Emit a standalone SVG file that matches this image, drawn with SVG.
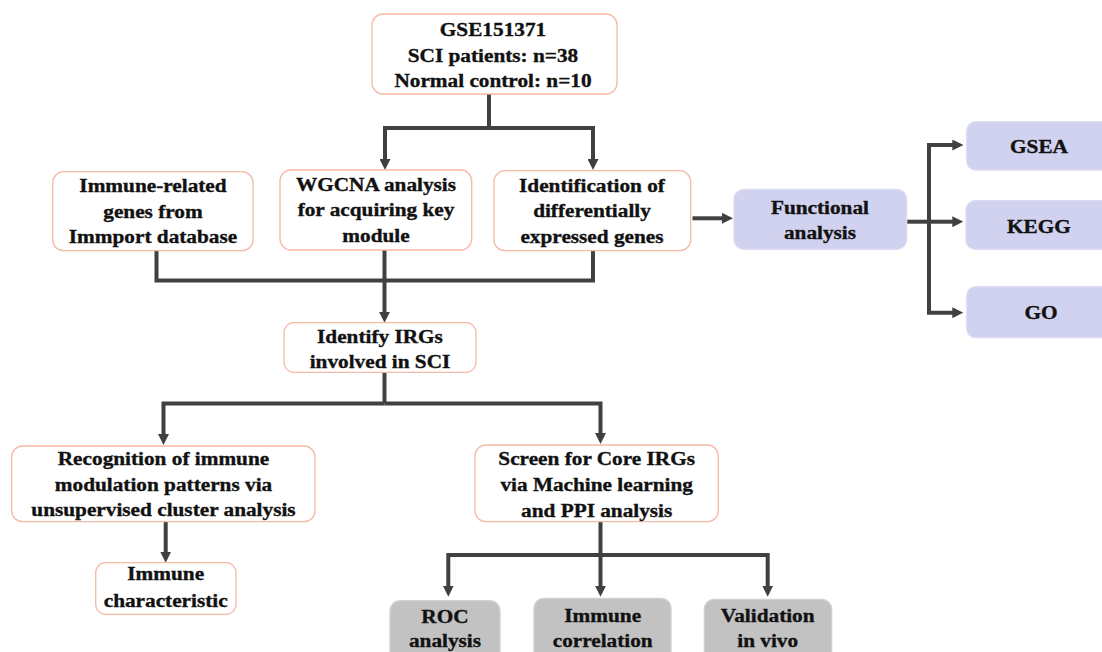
<svg xmlns="http://www.w3.org/2000/svg" width="1102" height="652" viewBox="0 0 1102 652">
<style>
  text { font-family: "Liberation Serif", "Times New Roman", serif; font-weight: bold; font-size: 19px; fill: #111; stroke: #111; stroke-width: 0.35; text-anchor: middle; transform-box: fill-box; transform-origin: center; transform: scaleX(1.12); }
  .node { fill: #ffffff; stroke: #f5b9a7; stroke-width: 1.3; }
  .func { fill: #d1d2ef; stroke: #dcdcf3; stroke-width: 1.3; }
  .gray { fill: #c2c2c2; stroke: #d2d2d2; stroke-width: 1.3; }
  .conn { fill: none; stroke: #404040; stroke-width: 4; stroke-linejoin: miter; }
  .arr { marker-end: url(#ah); }
</style>
<defs>
  <marker id="ah" markerUnits="userSpaceOnUse" markerWidth="11" markerHeight="11" viewBox="0 0 11 11" refX="1" refY="5.5" orient="auto">
    <path d="M0,0 L11,5.5 L0,11 z" fill="#404040"/>
  </marker>
</defs>
<rect width="1102" height="652" fill="#ffffff"/>

<g id="connectors">
  <path class="conn" d="M489,94 V128"/>
  <path class="conn arr" d="M489,128 H385 V160"/>
  <path class="conn arr" d="M489,128 H593 V160"/>
  <path class="conn" d="M156.5,251 V280.5 H593 V251"/>
  <path class="conn arr" d="M384.5,250 V312.7"/>
  <path class="conn" d="M384.5,372 V403.5"/>
  <path class="conn arr" d="M384.5,403.5 H163.5 V435"/>
  <path class="conn arr" d="M384.5,403.5 H600.5 V434"/>
  <path class="conn arr" d="M165.7,521.7 V552.7"/>
  <path class="conn" d="M600.5,521.7 V555"/>
  <path class="conn arr" d="M600.5,555 H448.3 V586.7"/>
  <path class="conn arr" d="M600.5,555 V586.7"/>
  <path class="conn arr" d="M600.5,555 H767.7 V586.7"/>
  <path class="conn arr" d="M692.5,218.3 H723"/>
  <path class="conn" d="M906.7,221.7 H929"/>
  <path class="conn arr" d="M929,221.7 V145 H953.3"/>
  <path class="conn arr" d="M929,221.7 H953.3"/>
  <path class="conn arr" d="M929,221.7 V312.7 H953.3"/>
</g>

<g id="n-gse">
  <rect class="node" x="372" y="14" width="245" height="80" rx="11"/>
  <text x="493" y="36">GSE151371</text>
  <text x="493" y="62.5">SCI patients: n=38</text>
  <text x="493" y="87">Normal control: n=10</text>
</g>

<g id="n-immune-genes">
  <rect class="node" x="52.7" y="171.7" width="200.3" height="79" rx="11"/>
  <text x="153" y="192">Immune-related</text>
  <text x="153" y="218">genes from</text>
  <text x="153" y="243">Immport database</text>
</g>

<g id="n-wgcna">
  <rect class="node" x="280" y="170" width="191.7" height="80" rx="11"/>
  <text x="376" y="191">WGCNA analysis</text>
  <text x="376" y="216.5">for acquiring key</text>
  <text x="376" y="242">module</text>
</g>

<g id="n-deg">
  <rect class="node" x="494" y="170.7" width="196.7" height="80" rx="11"/>
  <text x="592" y="192">Identification of</text>
  <text x="592" y="217.5">differentially</text>
  <text x="592" y="243">expressed genes</text>
</g>

<g id="n-functional">
  <rect class="func" x="734" y="189.3" width="172.7" height="60" rx="10"/>
  <text x="820" y="214">Functional</text>
  <text x="820" y="239">analysis</text>
</g>

<g id="n-gsea">
  <rect class="func" x="966.7" y="121.7" width="150" height="48.3" rx="9"/>
  <text x="1039" y="153.3">GSEA</text>
</g>

<g id="n-kegg">
  <rect class="func" x="966" y="200.7" width="150" height="48.6" rx="9"/>
  <text x="1039" y="232.7">KEGG</text>
</g>

<g id="n-go">
  <rect class="func" x="966.7" y="286.7" width="150" height="51" rx="9"/>
  <text x="1041" y="319.3">GO</text>
</g>

<g id="n-identify">
  <rect class="node" x="284" y="322.7" width="192" height="49.6" rx="10"/>
  <text x="380" y="343">Identify IRGs</text>
  <text x="380" y="368">involved in SCI</text>
</g>

<g id="n-recognition">
  <rect class="node" x="11.7" y="446" width="303.3" height="75.7" rx="11"/>
  <text x="163.5" y="465.5">Recognition of immune</text>
  <text x="163.5" y="491">modulation patterns via</text>
  <text x="163.5" y="516">unsupervised cluster analysis</text>
</g>

<g id="n-screen">
  <rect class="node" x="475" y="445" width="243.3" height="76.7" rx="11"/>
  <text x="596.7" y="465.5">Screen for Core IRGs</text>
  <text x="596.7" y="491.5">via Machine learning</text>
  <text x="596.7" y="516.7">and PPI analysis</text>
</g>

<g id="n-characteristic">
  <rect class="node" x="95.7" y="562.7" width="140.3" height="51.6" rx="10"/>
  <text x="165.7" y="580.5">Immune</text>
  <text x="165.7" y="606.7">characteristic</text>
</g>

<g id="n-roc">
  <rect class="gray" x="390" y="600.7" width="110" height="65" rx="10"/>
  <text x="445" y="622.7">ROC</text>
  <text x="445" y="646.7">analysis</text>
</g>

<g id="n-correlation">
  <rect class="gray" x="534" y="598.3" width="137" height="67" rx="10"/>
  <text x="602.7" y="621.7">Immune</text>
  <text x="602.7" y="646.7">correlation</text>
</g>

<g id="n-validation">
  <rect class="gray" x="704.3" y="599.3" width="127.4" height="66" rx="10"/>
  <text x="767.7" y="621.7">Validation</text>
  <text x="767.7" y="646.7">in vivo</text>
</g>
</svg>
